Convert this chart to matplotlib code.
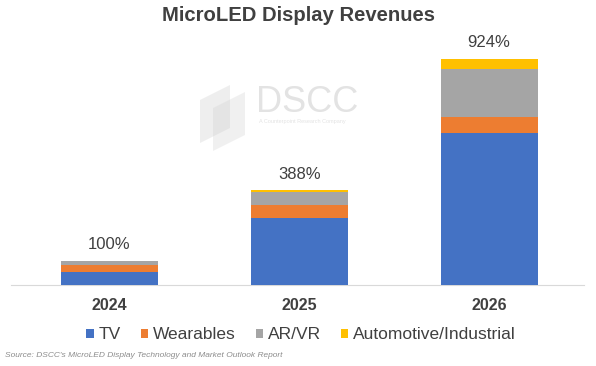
import matplotlib.pyplot as plt
import numpy as np
from matplotlib.patches import Polygon

years = ["2024", "2025", "2026"]
segments = ["TV", "Wearables", "AR/VR", "Automotive/Industrial"]
tv = [52, 274, 622]
wearables = [32, 52, 64]
arvr = [15, 55, 197]
auto = [1, 7, 41]
totals_label = ["100%", "388%", "924%"]

colors = ["#4472C4", "#ED7D31", "#A5A5A5", "#FFC000"]
txt = "#404040"

plt.rcParams['font.family'] = ['Liberation Sans', 'DejaVu Sans']

fig = plt.figure(figsize=(5.96, 3.66), dpi=100)
ax = fig.add_axes([0.018, 0.221, 0.962, 0.669])

x = np.arange(len(years))
bottom = np.zeros(len(years))
for vals, name, c in zip([tv, wearables, arvr, auto], segments, colors):
    ax.bar(x, vals, width=0.51, bottom=bottom, color=c, label=name, zorder=3)
    bottom += np.array(vals)

for xi, tot, lab in zip(x, bottom, totals_label):
    ax.text(xi, tot + 35, lab, ha="center", va="bottom", fontsize=12, color=txt, zorder=4)

ax.set_xlim(-0.52, 2.5)
ax.set_ylim(0, 1000)
ax.set_yticks([])
ax.set_xticks(x)
ax.set_xticklabels(years, fontsize=11.5, fontweight="bold", color=txt)
ax.tick_params(axis="x", length=0, pad=9)
for s in ["top", "right", "left"]:
    ax.spines[s].set_visible(False)
ax.spines["bottom"].set_color("#d9d9d9")
ax.patch.set_alpha(0)

fig.text(0.5, 0.958, "MicroLED Display Revenues", ha="center", va="center",
         fontsize=14.6, fontweight="bold", color="#404040")

# watermark
fig.text(0.43, 0.72, "DSCC", fontsize=26, color="#e3e3e3", ha="left", va="center", zorder=0)
fig.text(0.435, 0.667, "A Counterpoint Research Company", fontsize=4, color="#e3e3e3",
         ha="left", va="center", zorder=0)
w, h = 596, 366
for pts, a in [([(200, 100), (230, 85), (230, 128), (200, 143)], 0.35),
               ([(213, 108), (245, 92), (245, 135), (213, 151)], 0.3)]:
    fig.patches.append(Polygon([(px / w, 1 - py / h) for px, py in pts], closed=True,
                               transform=fig.transFigure, facecolor="#d0d0d0",
                               alpha=a, edgecolor="none", zorder=0))

leg = fig.legend(loc="center", bbox_to_anchor=(0.505, 0.085), ncol=4, frameon=False,
                 fontsize=12.5, handlelength=0.42, handleheight=0.42, handletextpad=0.28,
                 columnspacing=1.15)
for t in leg.get_texts():
    t.set_color(txt)

fig.text(0.008, 0.03, "Source: DSCC's MicroLED Display Technology and Market Outlook Report",
         fontsize=6.0, style="italic", color="#8c8c8c", ha="left", va="center")

fig.savefig("out.png", dpi=100)
